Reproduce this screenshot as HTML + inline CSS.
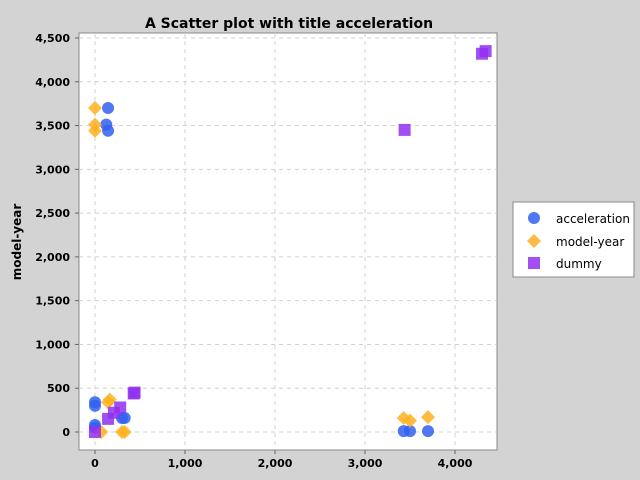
<!DOCTYPE html>
<html><head><meta charset="utf-8"><style>
html,body{margin:0;padding:0;overflow:hidden;background:#d3d3d3;font-family:"DejaVu Sans",sans-serif;}
svg{display:block}
</style></head><body>
<svg width="640" height="480" xmlns="http://www.w3.org/2000/svg" font-family="DejaVu Sans, sans-serif">
<rect width="640" height="480" fill="#d3d3d3"/>
<text x="289" y="28" text-anchor="middle" font-weight="bold" font-size="14">A Scatter plot with title acceleration</text>
<rect x="79" y="33" width="418" height="417" fill="#fff" stroke="#888"/>
<g id="grid"></g><g id="axes"></g><g id="marks"></g>
<text transform="translate(21,242) rotate(-90)" text-anchor="middle" font-weight="bold" font-size="12">model-year</text>
<g>
<rect x="513" y="202" width="121" height="75" fill="#fff" stroke="#888"/>
<circle cx="534" cy="218" r="6" fill="#3060f0" fill-opacity="0.85"/>
<text x="556" y="223" font-size="12">acceleration</text>
<path d="M534 234 l7 7 l-7 7 l-7 -7z" fill="#ffb020" fill-opacity="0.85"/>
<text x="556" y="246" font-size="12">model-year</text>
<rect x="528" y="257" width="12" height="12" fill="#9030f0" fill-opacity="0.85"/>
<text x="556" y="268" font-size="12">dummy</text>
</g>
</svg>
<script>
const xTicks=[0,1000,2000,3000,4000];
const yTicks=[0,500,1000,1500,2000,2500,3000,3500,4000,4500];
const accX=[0,0,145,125,145,0,0,300,330,3430,3500,3700];
const accY=[340,300,3700,3510,3440,50,80,160,160,10,10,10];
const myX=[0,0,0,145,165,70,300,330,3430,3500,3700];
const myY=[3700,3510,3440,340,370,0,0,0,160,130,170];
const dumX=[0,145,210,280,430,440,3440,4300,4340];
const dumY=[0,150,220,280,440,450,3450,4320,4350];
const NS="http://www.w3.org/2000/svg";
const sx=v=>95+v*0.09, sy=v=>432-v*0.08756;
function mk(t,a,p){const e=document.createElementNS(NS,t);for(const k in a)e.setAttribute(k,a[k]);document.getElementById(p).appendChild(e);return e;}
function fmt(v){return v.toLocaleString('en-US');}
xTicks.forEach(v=>{
 const l=mk('line',{x1:sx(v),x2:sx(v),y1:33,y2:450,stroke:'#d0d0d0','stroke-dasharray':'4,4'},'grid');
 
 
 mk('line',{x1:sx(v),x2:sx(v),y1:450,y2:454,stroke:'#666'},'axes');
 const t=mk('text',{x:sx(v),y:467,'text-anchor':'middle','font-size':'11','font-weight':'bold'},'axes');t.textContent=fmt(v);
 
 
});
yTicks.forEach(v=>{
 const l=mk('line',{x1:79,x2:497,y1:sy(v),y2:sy(v),stroke:'#d0d0d0','stroke-dasharray':'4,4'},'grid');
 
 
 mk('line',{x1:75,x2:79,y1:sy(v),y2:sy(v),stroke:'#666'},'axes');
 const t=mk('text',{x:70,y:sy(v)+4,'text-anchor':'end','font-size':'11','font-weight':'bold'},'axes');t.textContent=fmt(v);
 
 
});
accX.forEach((x,i)=>{const e=mk('circle',{cx:sx(x),cy:sy(accY[i]),r:6,fill:'#3060f0','fill-opacity':0.85},'marks');
 
 });
myX.forEach((x,i)=>{const cx=sx(x),cy=sy(myY[i]);const e=mk('path',{d:`M${cx} ${cy-7} l7 7 l-7 7 l-7 -7z`,fill:'#ffb020','fill-opacity':0.85},'marks');
 
 });
dumX.forEach((x,i)=>{const e=mk('rect',{x:sx(x)-6,y:sy(dumY[i])-6,width:12,height:12,fill:'#9030f0','fill-opacity':0.85},'marks');
 
 });
</script>
</body></html>
